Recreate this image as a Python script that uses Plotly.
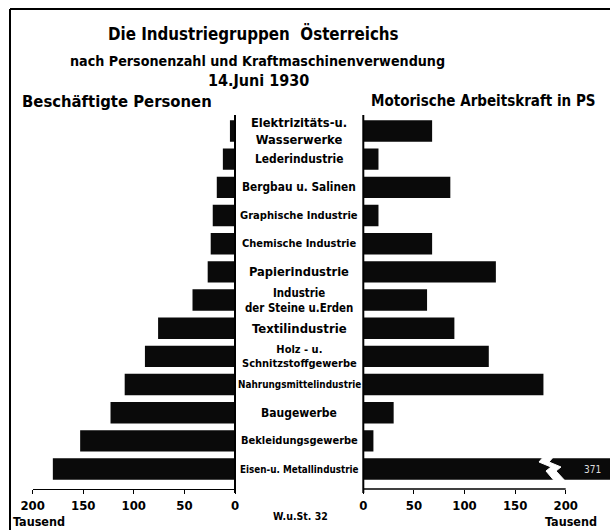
import plotly.graph_objects as go

# ---------------- data ----------------
categories = [
    "Elektrizitäts-u.<br>Wasserwerke",
    "Lederindustrie",
    "Bergbau u. Salinen",
    "Graphische Industrie",
    "Chemische Industrie",
    "Papierindustrie",
    "Industrie<br>der Steine u.Erden",
    "Textilindustrie",
    "Holz - u.<br>Schnitzstoffgewerbe",
    "Nahrungsmittelindustrie",
    "Baugewerbe",
    "Bekleidungsgewerbe",
    "Eisen-u. Metallindustrie",
]
persons_thousand = [5, 12, 18, 22, 24, 27, 42, 76, 89, 109, 123, 153, 180]
ps_thousand = [68, 15, 86, 15, 68, 131, 63, 90, 124, 178, 30, 10, 371]
tick_values = [0, 50, 100, 150, 200]
tick_labels = ["0", "50", "100", "150", "200"]

# ---------------- layout helpers ----------------
W, H = 610, 530
def px(x):
    return x / W
def py(y):
    return 1 - y / H

NARROW = "DejaVu Sans Condensed, Liberation Sans Narrow, Arial Narrow, sans-serif"
SCALE = 1.012             # pixels per thousand
L0, R0 = 235.0, 363.3     # pixel positions of the two zero lines
AX_Y = 489                # pixel row of the value axes

label_sizes = [12.8, 11.9, 11.8, 11.1, 11.0, 12.8, 11.4, 13.0, 11.0, 9.9, 12.0, 11.0, 9.8]

fig = go.Figure()
fig.add_bar(y=categories, x=persons_thousand, orientation="h", xaxis="x", yaxis="y",
            marker=dict(color="#0a0a0a", line_width=0), width=0.76, hoverinfo="skip")
fig.add_bar(y=categories, x=ps_thousand, orientation="h", xaxis="x2", yaxis="y",
            marker=dict(color="#0a0a0a", line_width=0), width=0.76, hoverinfo="skip")

tickfont = dict(family=NARROW, size=13, color="black", weight="bold")

annotations = []
for cat, sz in zip(categories, label_sizes):
    annotations.append(dict(x=px(299), xref="paper", y=cat, yref="y", text=cat,
                            showarrow=False, xanchor="center", yanchor="middle",
                            font=dict(family=NARROW, size=sz, color="black", weight="bold")))

def txt(x, y, s, size, anchor="center", weight="bold", color="black", fam=NARROW):
    annotations.append(dict(x=px(x), y=py(y), xref="paper", yref="paper", text=s,
                            showarrow=False, xanchor=anchor, yanchor="middle",
                            font=dict(family=fam, size=size, color=color, weight=weight)))

txt(253, 34, "Die Industriegruppen  Österreichs", 16.8, anchor="center")
txt(257, 61, "nach Personenzahl und Kraftmaschinenverwendung", 14.2)
txt(258, 81, "14.Juni 1930", 16)
txt(20, 101, "Beschäftigte Personen", 16.5, anchor="left")
txt(598, 101, "Motorische Arbeitskraft in PS", 15, anchor="right")
txt(11, 521, "Tausend", 12.5, anchor="left")
txt(599, 521, "Tausend", 12.5, anchor="right")
txt(300, 516, "W.u.St. 32", 10.5)
txt(592, 469, str(ps_thousand[-1]), 10, weight="normal", color="#dddddd")

shapes = []
def line(x0, y0, x1, y1, w=2):
    shapes.append(dict(type="line", xref="paper", yref="paper",
                       x0=px(x0), y0=py(y0), x1=px(x1), y1=py(y1),
                       line=dict(color="black", width=w)))

# frame
line(10, 9, 610, 9, 2)
line(10, 9, 10, 530, 2)
# zero lines
line(L0, 115, L0, 493, 2)
line(R0, 115, R0, 493, 2)
# right axis line 0..200
line(R0, AX_Y, R0 + 200 * SCALE, AX_Y, 1.3)

# white zig-zag break in the long bar
Lp = [(545, 455), (539, 462), (551, 467), (546, 471), (557, 484)]
Rp = [(555, 455), (549, 462), (561, 467), (556, 471), (568, 484)]
pts = Lp + Rp[::-1]
path = "M " + " L ".join(f"{px(x):.5f},{py(y):.5f}" for x, y in pts) + " Z"
shapes.append(dict(type="path", xref="paper", yref="paper", path=path,
                   fillcolor="white", line=dict(color="white", width=1)))

fig.update_layout(
    width=W, height=H,
    margin=dict(l=0, r=0, t=0, b=0, pad=0, autoexpand=False),
    paper_bgcolor="white", plot_bgcolor="rgba(0,0,0,0)",
    showlegend=False, barmode="overlay",
    xaxis=dict(domain=[px(L0 - 200 * SCALE), px(L0)], range=[200, 0], anchor="y",
               tickvals=tick_values, ticktext=tick_labels, ticks="outside", ticklen=4,
               tickwidth=1.3, tickcolor="black", showline=True, linecolor="black",
               linewidth=1.3, showgrid=False, zeroline=False, tickfont=tickfont,
               automargin=False),
    xaxis2=dict(domain=[px(R0), 1.0], range=[0, (W - R0) / SCALE], anchor="y",
                tickvals=tick_values, ticktext=tick_labels, ticks="outside", ticklen=4,
                tickwidth=1.3, tickcolor="black", showline=False,
                showgrid=False, zeroline=False, tickfont=tickfont, automargin=False),
    yaxis=dict(domain=[py(AX_Y), py(112)], type="category",
               categoryorder="array", categoryarray=categories,
               range=[(AX_Y - 131) / 28.17, (112 - 131) / 28.17],
               showticklabels=False, ticks="", showgrid=False, zeroline=False,
               showline=False, automargin=False),
    annotations=annotations,
    shapes=shapes,
)

fig.write_html("out.html", config={"displayModeBar": False},
               post_script="document.body.style.margin='0';document.body.style.overflow='hidden';")
